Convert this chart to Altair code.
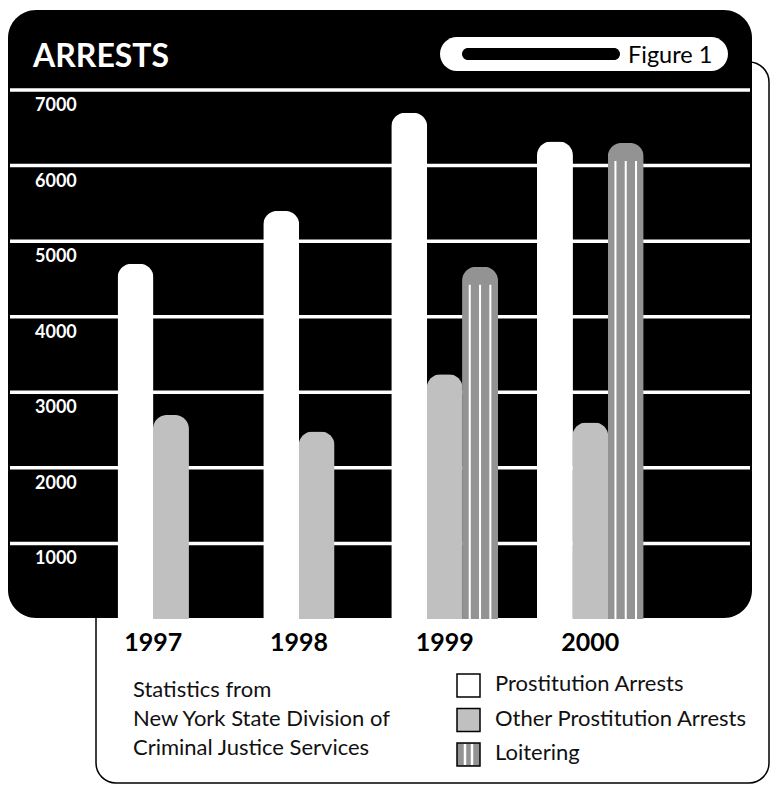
import altair as alt
import pandas as pd

# ---------------- data ----------------
years = [1997, 1998, 1999, 2000]
series = ["Prostitution Arrests", "Other Prostitution Arrests", "Loitering"]
prostitution = [4700, 5400, 6700, 6320]
other_prostitution = [2700, 2480, 3240, 2600]
loitering = [None, None, 4660, 6300]
y_ticks = [1000, 2000, 3000, 4000, 5000, 6000, 7000]
title_text = "ARRESTS"
figure_label = "Figure 1"
source_lines = ["Statistics from", "New York State Division of", "Criminal Justice Services"]

# ---------------- layout / style ----------------
W, H = 774, 785
FONT = "Lato"
BAR_PX = 36
X_DOMAIN = [1996.5, 2000.5]
X_RANGE = [75.4, 668.2]
STEP_PX = (X_RANGE[1] - X_RANGE[0]) / (X_DOMAIN[1] - X_DOMAIN[0])
Y_RANGE = [619, 90]
BASE_Y = 619
COLORS = ["#ffffff", "#c0c0c0", "#939393"]
STRIPE_OFFSETS = [-10.3, 0, 10.3]

rows = []
for k, yr in enumerate(years):
    vals = [prostitution[k], other_prostitution[k], loitering[k]]
    present = [(s, v) for s, v in zip(series, vals) if v is not None]
    n = len(present)
    for i, (s, v) in enumerate(present):
        rows.append({"year": yr, "series": s, "value": v,
                     "pos": yr + (i - (n - 1) / 2) * BAR_PX / STEP_PX})
df = pd.DataFrame(rows)
loit_df = df[df["series"] == "Loitering"]
grid_df = pd.DataFrame({"tick": y_ticks})
year_df = pd.DataFrame({"year": years})
one = pd.DataFrame({"k": [0]})

xs = alt.Scale(domain=X_DOMAIN, range=X_RANGE, nice=False, zero=False)
ys = alt.Scale(domain=[0, 7000], range=Y_RANGE, nice=False, zero=False)

# outer frame line (behind the black panel)
frame = alt.Chart(one).mark_rect(
    fillOpacity=0, stroke="black", strokeWidth=1.5, cornerRadius=20
).encode(x=alt.value(96), x2=alt.value(769), y=alt.value(62), y2=alt.value(783))

panel = alt.Chart(one).mark_rect(color="black", cornerRadius=28).encode(
    x=alt.value(8), x2=alt.value(752), y=alt.value(10), y2=alt.value(618)
)

grid = alt.Chart(grid_df).mark_rule(color="white", strokeWidth=3.5).encode(
    y=alt.Y("tick:Q", scale=ys, axis=None), x=alt.value(10), x2=alt.value(750)
)

grid_labels = alt.Chart(grid_df).mark_text(
    align="left", baseline="middle", dy=16, font=FONT, fontWeight="bold",
    fontSize=18, color="white"
).encode(
    y=alt.Y("tick:Q", scale=ys, axis=None), x=alt.value(35),
    text=alt.Text("tick:Q", format="d")
)

bars = alt.Chart(df).mark_bar(
    width=BAR_PX, cornerRadiusTopLeft=14, cornerRadiusTopRight=14, orient="vertical"
).encode(
    x=alt.X("pos:Q", scale=xs, axis=None),
    y=alt.Y("value:Q", scale=ys, axis=None),
    y2=alt.value(BASE_Y),
    color=alt.Color("series:N", scale=alt.Scale(domain=series, range=COLORS), legend=None),
)

stripes = [
    alt.Chart(loit_df).mark_rule(color="white", strokeWidth=2, xOffset=o, yOffset=18).encode(
        x=alt.X("pos:Q", scale=xs, axis=None),
        y=alt.Y("value:Q", scale=ys, axis=None),
        y2=alt.value(BASE_Y),
    )
    for o in STRIPE_OFFSETS
]

title = alt.Chart(one).mark_text(
    text=title_text, align="left", baseline="alphabetic", font=FONT,
    fontWeight="bold", fontSize=32, color="white"
).encode(x=alt.value(33), y=alt.value(67))

pill = alt.Chart(one).mark_rect(color="white", cornerRadius=17).encode(
    x=alt.value(440), x2=alt.value(728), y=alt.value(37), y2=alt.value(71)
)
pill_inner = alt.Chart(one).mark_rect(color="black", cornerRadius=6).encode(
    x=alt.value(462), x2=alt.value(620), y=alt.value(48), y2=alt.value(60)
)
fig_text = alt.Chart(one).mark_text(
    text=figure_label, align="left", baseline="alphabetic", font=FONT,
    fontSize=23.5, color="black"
).encode(x=alt.value(628), y=alt.value(63))

year_text = alt.Chart(year_df).mark_text(
    baseline="alphabetic", font=FONT, fontWeight="bold", fontSize=25, color="black"
).encode(
    x=alt.X("year:Q", scale=xs, axis=None), y=alt.value(651),
    text=alt.Text("year:Q", format="d")
)

source = alt.Chart(one).mark_text(
    text=source_lines, align="left", baseline="alphabetic", font=FONT,
    fontSize=22, lineHeight=29, color="#111111"
).encode(x=alt.value(133), y=alt.value(697))

# legend
LEG_X, LEG_W, LEG_H, LEG_Y0, LEG_DY = 457, 23, 23, 674, 34.5
legend_layers = []
for i, s in enumerate(series):
    top = LEG_Y0 + i * LEG_DY
    legend_layers.append(
        alt.Chart(one).mark_rect(color=COLORS[i], stroke="black", strokeWidth=1.5).encode(
            x=alt.value(LEG_X), x2=alt.value(LEG_X + LEG_W),
            y=alt.value(top), y2=alt.value(top + LEG_H)
        )
    )
    if s == "Loitering":
        for fx in (LEG_X + 8, LEG_X + 15):
            legend_layers.append(
                alt.Chart(one).mark_rule(color="white", strokeWidth=2.5).encode(
                    x=alt.value(fx), y=alt.value(top + 1), y2=alt.value(top + LEG_H - 1)
                )
            )
    legend_layers.append(
        alt.Chart(one).mark_text(
            text=s, align="left", baseline="alphabetic", font=FONT, fontSize=22,
            color="#111111"
        ).encode(x=alt.value(495), y=alt.value(top + 17))
    )

chart = alt.layer(
    frame, panel, grid, grid_labels, bars, *stripes, title, pill, pill_inner, fig_text,
    year_text, source, *legend_layers
).properties(
    width=W, height=H, autosize=alt.AutoSizeParams(type="none"), padding=0,
    background="white"
).configure_view(strokeWidth=0)

chart.save("out.html", embed_options={"renderer": "svg", "actions": False})
